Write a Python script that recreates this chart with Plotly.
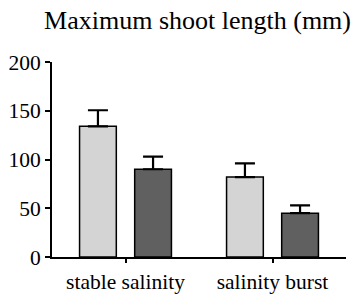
import plotly.graph_objects as go

categories = ["stable salinity", "salinity burst"]
series_a_values = [134, 82]
series_a_errors = [16.5, 14]
series_b_values = [90, 45]
series_b_errors = [13, 8]
y_tick_values = [0, 50, 100, 150, 200]

FONT = "Liberation Serif"

fig = go.Figure()
fig.add_trace(go.Bar(
    x=categories, y=series_a_values,
    marker=dict(color="#d4d4d4", line=dict(color="black", width=1.5)),
    error_y=dict(type="data", array=series_a_errors, arrayminus=[0, 0], symmetric=False,
                 color="black", thickness=2.2, width=10),
))
fig.add_trace(go.Bar(
    x=categories, y=series_b_values,
    marker=dict(color="#606060", line=dict(color="black", width=1.5)),
    error_y=dict(type="data", array=series_b_errors, arrayminus=[0, 0], symmetric=False,
                 color="black", thickness=2.2, width=10),
))

# page body has an 8px default margin, so the figure is sized to fit the window
fig.update_layout(
    template="none",
    width=351, height=288,
    margin=dict(l=44, r=13, t=54, b=39, pad=0),
    paper_bgcolor="white", plot_bgcolor="white",
    barmode="group", bargap=0.25, bargroupgap=1/3,
    showlegend=False,
    font=dict(family=FONT, color="black", size=21.5),
    title=dict(text="Maximum shoot length (mm)", x=0.54, xref="container", xanchor="center",
               y=1, yref="container", yanchor="top", pad=dict(t=3),
               font=dict(family=FONT, size=26, color="black")),
)
fig.update_xaxes(
    range=[-0.5, 1.5], showline=True, linecolor="black", linewidth=2,
    ticks="outside", ticklen=4, tickwidth=2, tickcolor="black",
    showgrid=False, zeroline=False, tickfont=dict(family=FONT, size=21.5, color="black"),
)
fig.update_yaxes(
    range=[0, 200], tickvals=y_tick_values, showline=True, linecolor="black", linewidth=2,
    ticks="outside", ticklen=5, tickwidth=2, tickcolor="black",
    showgrid=False, zeroline=False, tickfont=dict(family=FONT, size=21.5, color="black"),
)

fig.write_html("out.html")
